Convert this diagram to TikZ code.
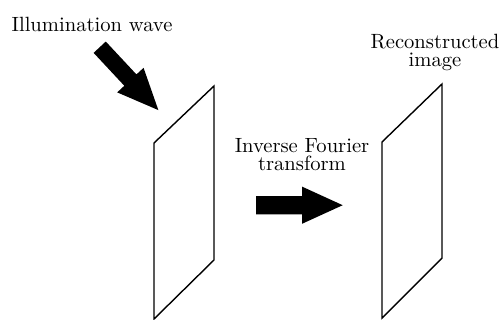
\documentclass[tikz,border=0pt]{standalone}
\begin{document}
\begin{tikzpicture}[x=0.5pt,y=-0.5pt,
  plane/.style={draw=black,line width=0.7pt,line join=miter,fill=white},
  bigarrow/.style={fill=black},
  label/.style={inner sep=0pt,align=center,font=\fontsize{10.3}{9.2}\selectfont}]
  \useasboundingbox (0,0) rectangle (502,320);

  % hologram plane (left) and reconstruction plane (right)
  \draw[plane] (154,143) -- (214,86) -- (214,260) -- (154,319) -- cycle;
  \draw[plane] (382,142) -- (442,84) -- (442,258) -- (382,318) -- cycle;

  % illumination arrow, pointing down onto the hologram
  \fill[bigarrow,shift={(99.7,47.2)},rotate=-47]
    (0,-8.3) -- (45,-8.3) -- (45,-18) -- (86,0) -- (45,18) -- (45,8.3) -- (0,8.3) -- cycle;

  % transform arrow between the two planes
  \fill[bigarrow,shift={(256,205.2)}]
    (0,-9.2) -- (46,-9.2) -- (46,-18.6) -- (86.7,0) -- (46,18.6) -- (46,9.2) -- (0,9.2) -- cycle;

  % labels (base anchor of a two-line label sits on its last line)
  \node[label,anchor=base] (illum) at (92,32) {Illumination wave};
  \node[label,anchor=base] (ift) at (302,170.5) {Inverse Fourier\\transform};
  \node[label,anchor=base] (recon) at (435,67) {Reconstructed\\image};
\end{tikzpicture}
\end{document}
